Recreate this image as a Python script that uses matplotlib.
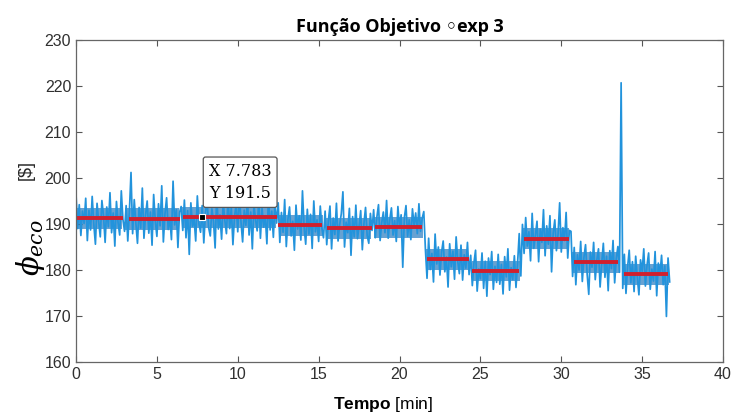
import numpy as np
import matplotlib.pyplot as plt

# sample period of the recorded signal (min)
dt = 0.1

# phi_eco signal, one list per operating interval
phi_seg1 = [196.5, 189.0, 194.2, 187.5, 192.8, 190.1, 195.6, 186.4, 193.0, 188.7,
            196.0, 189.9, 185.6, 194.5, 190.6, 187.2, 195.1, 191.8, 186.0, 193.7,
            189.4, 196.8, 188.1, 192.4, 185.2, 194.9, 190.3, 187.6, 197.2, 191.0]
phi_seg2 = [188.4, 194.0, 186.3, 192.7, 201.2, 187.9, 195.3, 190.2, 185.8, 193.6,
            189.1, 197.8, 186.9, 191.9, 195.0, 188.0, 192.6, 185.4, 196.4, 190.7,
            187.3, 194.4, 189.6, 198.3, 186.1, 192.2, 195.7, 188.8, 191.4, 186.6,
            199.3, 189.8, 193.1, 184.9, 192.5]
phi_seg3 = [193.8, 188.6, 195.2, 187.0, 192.9, 183.4, 194.6, 189.5, 191.2, 186.3,
            196.1, 190.0, 188.2, 194.0, 185.9, 192.3, 195.5, 189.2, 187.4, 193.3,
            190.6, 184.8, 196.4, 188.9, 192.0, 186.7, 194.8, 190.8, 187.9, 195.9,
            189.0, 193.6, 185.5, 191.7, 194.3, 188.3, 196.8, 190.4, 186.1, 193.0,
            189.7, 195.4, 187.6, 192.6, 184.6, 194.1, 190.9, 188.5, 195.7, 186.9,
            193.4, 189.3, 191.8, 185.7, 196.3, 188.7, 192.8, 187.1, 194.5, 190.2]
phi_seg4 = [194.6, 186.0, 192.5, 188.2, 195.3, 185.1, 191.0, 193.7, 187.4, 190.6,
            184.3, 194.1, 188.9, 191.8, 186.5, 197.2, 189.4, 185.6, 193.2, 187.8,
            192.1, 184.7, 195.0, 188.3, 190.9, 186.2, 193.9, 189.1, 187.0]
phi_seg5 = [192.8, 185.5, 190.7, 193.9, 184.6, 191.3, 187.7, 194.5, 186.3, 189.9,
            192.2, 197.0, 185.0, 190.4, 188.1, 193.4, 183.2, 191.6, 187.2, 194.1,
            186.8, 189.5, 192.9, 184.4, 190.1, 193.6, 187.5, 185.8, 192.3, 188.6]
phi_seg6 = [193.1, 187.0, 191.5, 194.2, 186.4, 190.3, 192.6, 188.1, 195.1, 186.9,
            191.0, 193.5, 187.6, 190.7, 186.2, 193.8, 189.2, 192.0, 180.6, 191.4,
            194.0, 187.3, 190.9, 186.6, 193.3, 189.7, 192.4, 187.9, 194.4, 188.4,
            191.2, 192.7]
phi_seg7 = [184.5, 178.2, 186.9, 180.1, 183.6, 177.4, 187.8, 181.3, 185.0, 178.9,
            183.9, 186.3, 179.6, 182.8, 176.3, 185.7, 180.7, 184.1, 178.0, 187.2,
            181.9, 179.2, 185.4, 177.8, 183.3, 180.4, 186.0, 179.0]
phi_seg8 = [183.2, 176.6, 181.5, 184.3, 175.4, 180.2, 178.1, 183.7, 176.0, 181.9,
            174.3, 182.6, 179.0, 184.0, 175.8, 180.8, 177.3, 183.4, 176.9, 181.2,
            174.8, 182.9, 178.5, 184.6, 175.6, 180.5, 177.9, 183.1, 176.2, 181.6,
            187.9, 178.7]
phi_seg9 = [189.9, 183.6, 191.4, 185.2, 188.3, 182.0, 192.3, 184.7, 187.5, 190.6,
            181.8, 188.9, 186.0, 193.1, 183.1, 189.6, 185.6, 191.8, 179.6, 188.0,
            190.9, 184.2, 187.7, 194.6, 183.9, 189.2, 186.4, 192.5, 182.6, 188.6]
phi_seg10 = [188.4, 178.6, 184.9, 176.8, 183.3, 180.0, 186.2, 177.5, 182.7, 185.5,
             179.1, 174.7, 183.9, 180.6, 186.0, 177.9, 182.2, 184.6, 176.3, 181.4,
             185.8, 178.4, 183.0, 175.5, 184.2, 180.3, 186.4, 177.2, 182.5, 185.1,
             179.5]
phi_seg11 = [220.7, 176.0, 183.4, 174.9, 180.6, 184.3, 177.2, 181.8, 175.3, 183.0,
             178.4, 174.6, 182.2, 179.7, 184.6, 176.5, 181.0, 183.7, 175.8, 180.2,
             177.6, 184.0, 174.4, 181.5, 178.9, 183.2, 176.8, 180.9, 169.9, 182.6,
             177.4]

# dense core of the signal in each interval (lower / upper)
core_lo = [189.0, 188.8, 189.2, 187.4, 186.8, 187.0, 180.0, 177.6, 184.6, 179.4, 176.8]
core_hi = [193.4, 193.4, 193.6, 192.0, 191.4, 191.6, 184.6, 182.0, 189.2, 184.0, 181.4]

# mean value per interval (red lines)
mean_start = [0.05, 3.3, 6.6, 12.5, 15.5, 18.5, 21.7, 24.5, 27.7, 30.8, 33.9]
mean_end = [2.9, 6.4, 12.4, 15.2, 18.3, 21.4, 24.3, 27.4, 30.5, 33.5, 36.6]
mean_val = [191.2, 191.1, 191.5, 189.8, 189.2, 189.3, 182.4, 179.8, 186.8, 181.8, 179.1]

# data tip
tip_x = 7.783
tip_y = 191.5

########################################################
plt.rcParams["font.family"] = "Liberation Sans"
plt.rcParams["mathtext.fontset"] = "custom"
plt.rcParams["mathtext.rm"] = "Liberation Sans"
plt.rcParams["mathtext.bf"] = "Liberation Sans:bold"
plt.rcParams["mathtext.it"] = "DejaVu Serif:italic"

segs = [phi_seg1, phi_seg2, phi_seg3, phi_seg4, phi_seg5, phi_seg6,
        phi_seg7, phi_seg8, phi_seg9, phi_seg10, phi_seg11]
phi = np.concatenate(segs)
t = np.arange(len(phi)) * dt
edges = np.concatenate([[0], np.cumsum([len(s) for s in segs])]) * dt

fig = plt.figure(figsize=(7.33, 4.17), dpi=100)
ax = fig.add_axes([0.1037, 0.132, 0.8827, 0.772])

ax.plot(t, phi, color="#2293dc", linewidth=1.25)
for i in range(len(segs)):
    ax.fill_between([edges[i] + 0.05, edges[i + 1] - 0.15], core_lo[i], core_hi[i],
                    color="#1570ba", alpha=0.65, linewidth=0)
ax.hlines(mean_val, mean_start, mean_end, color="#d0202e", linewidth=2.8)

# data tip marker and box
ax.plot(tip_x, tip_y, marker="s", markersize=5, color="black",
        markeredgecolor="white", markeredgewidth=0.8)
ax.annotate("X 7.783\nY 191.5", xy=(tip_x, tip_y), xytext=(5, 11),
            textcoords="offset points", ha="left", va="bottom",
            family="DejaVu Serif", fontsize=11.5, linespacing=1.4,
            bbox=dict(boxstyle="round,pad=0.35,rounding_size=0.15",
                      fc="white", ec="#555555", lw=0.9))

ax.set_xlim(0, 40)
ax.set_ylim(160, 230)
ax.set_xticks(np.arange(0, 41, 5))
ax.set_yticks(np.arange(160, 231, 10))
ax.tick_params(direction="in", top=True, right=True, length=4,
               labelsize=11.5, labelcolor="#303030", color="#555555")
for s in ax.spines.values():
    s.set_color("#666666")
    s.set_linewidth(0.9)

ax.set_title("Função Objetivo ◦exp 3", fontsize=13, fontweight="bold",
             family=["Open Sans", "DejaVu Sans"], pad=6)

ax.text(-0.071, 0.354, r"$\phi_{eco}$", transform=ax.transAxes, rotation=90,
        ha="center", va="center", fontsize=21)
ax.text(-0.077, 0.597, "[$]", transform=ax.transAxes, rotation=90,
        ha="center", va="center", fontsize=13, color="#262626")
ax.text(0.475, -0.133, r"$\mathbf{Tempo}$ [min]", transform=ax.transAxes,
        ha="center", va="center", fontsize=12.5)

plt.savefig("out.png", dpi=100)
